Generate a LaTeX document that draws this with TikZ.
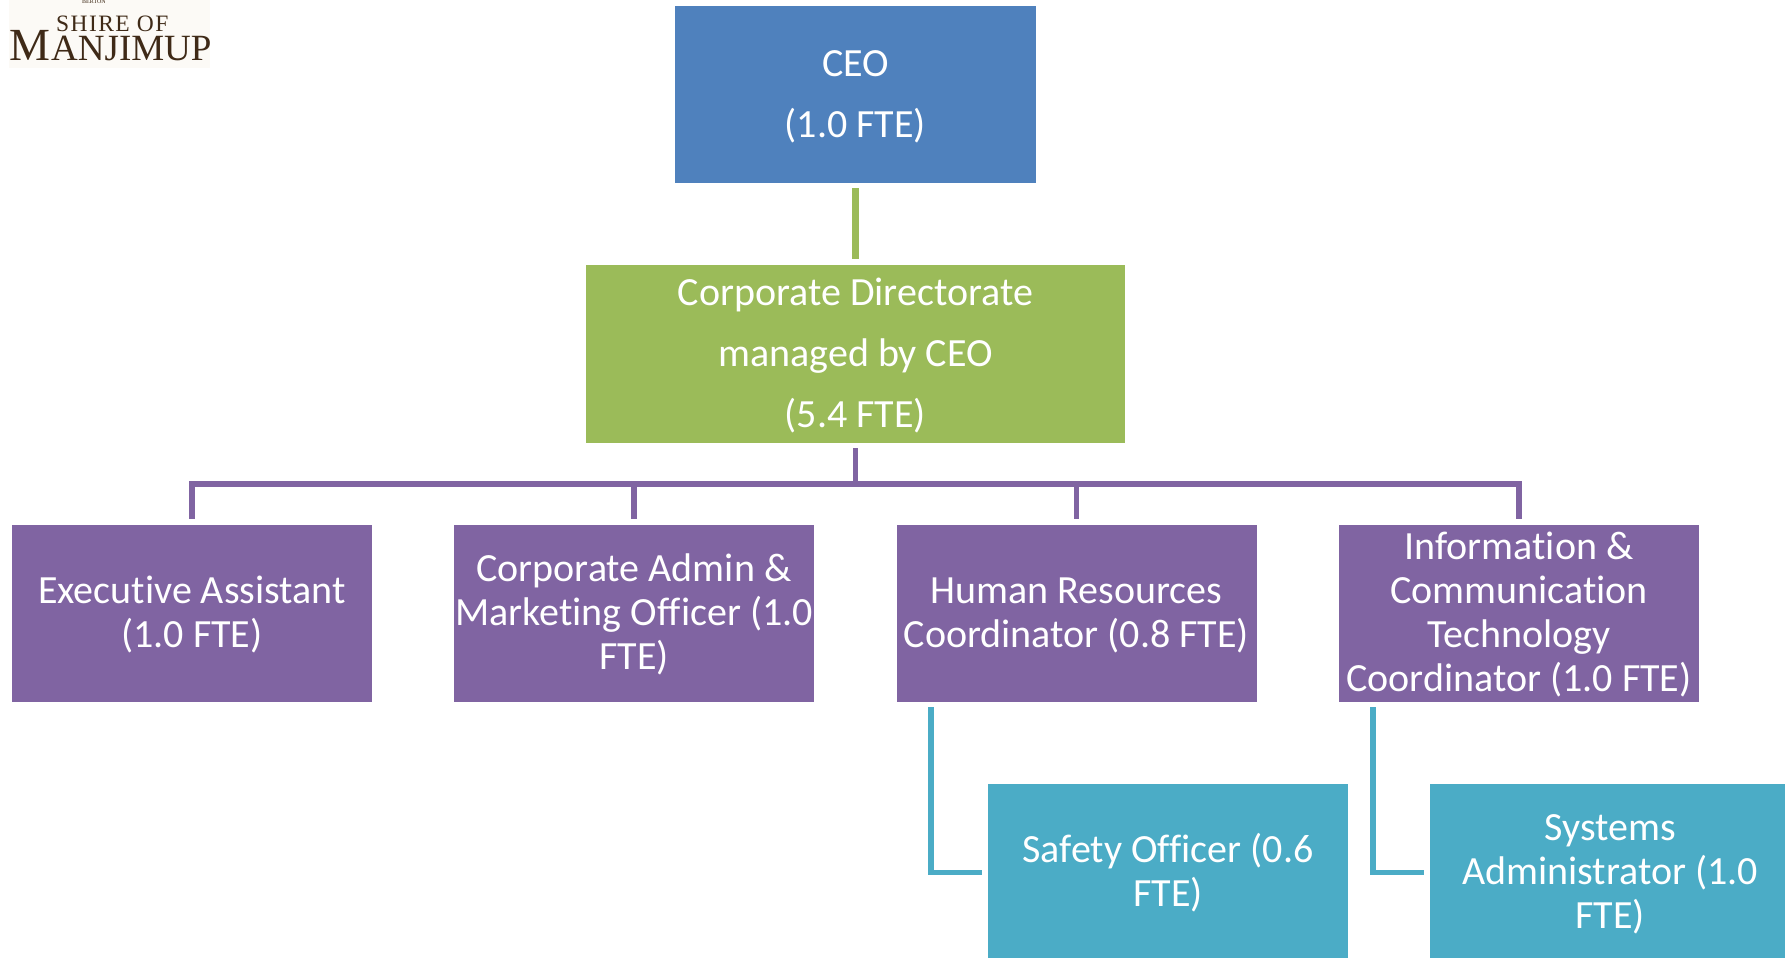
\documentclass[tikz,border=0pt]{standalone}
\usepackage{fontspec}
\setmainfont[Ligatures=NoCommon]{Carlito}
\newfontfamily\logofont{Liberation Serif}
\newfontfamily\logospaced[LetterSpace=6]{Liberation Serif}
\definecolor{cblue}{HTML}{4F81BD}
\definecolor{cgreen}{HTML}{9BBB59}
\definecolor{cpurple}{HTML}{8064A2}
\definecolor{cteal}{HTML}{4BACC6}
\definecolor{logobrown}{HTML}{3F2A17}
\definecolor{logobg}{HTML}{FCFAF6}
\newcommand{\lst}{\rule[-10pt]{0pt}{44pt}}
\tikzset{
  x=1pt,y=-1pt,
  orgbox/.style={rectangle,inner sep=0pt,text=white,align=center,minimum width=360pt,minimum height=177pt,font=\fontsize{40}{44}\selectfont},
  widebox/.style={orgbox,font=\fontsize{40}{61}\selectfont},
  link/.style={line width=5.5pt,shorten <=5pt,shorten >=6pt},
  logotext/.style={inner sep=0pt,text=logobrown,anchor=base west},
}
\begin{document}
\begin{tikzpicture}
\useasboundingbox (0,0) rectangle (1785,958);
\begin{scope}
\clip (0,0) rectangle (1785,958);
% logo
\node[rectangle,fill=logobg,minimum width=201pt,minimum height=68pt,inner sep=0pt] (logobox) at (109,34) {};
\node[logotext,font=\logofont\fontsize{6}{6}\selectfont] (logotop) at (82,3.5) {BERTON};
\node[logotext,font=\logospaced\fontsize{23.5}{23.5}\selectfont] (logoa) at (56,32) {SHIRE OF};
\node[logotext,font=\logofont\fontsize{46}{46}\selectfont] (logob) at (9,60) {M};
\node[logotext,font=\logofont\fontsize{37}{37}\selectfont] (logoc) at (51,60) {ANJIMUP};
% boxes
\node[widebox,fill=cblue,minimum width=361pt] (ceo) at (855.5,94.5) {\lst CEO\\\lst (1.0 FTE)};
\node[widebox,fill=cgreen,minimum width=539pt,minimum height=178pt] (cd) at (855.5,354) {\lst Corporate Directorate\\managed by CEO\\\lst (5.4 FTE)};
\node[orgbox,fill=cpurple] (ea) at (192,613.5) {\lst Executive Assistant\\\lst (1.0 FTE)};
\node[orgbox,fill=cpurple] (cam) at (634,613.5) {\lst Corporate Admin \&\\Marketing Officer (1.0\\\lst FTE)};
\node[orgbox,fill=cpurple] (hr) at (1076.5,613.5) {\lst Human Resources\\\lst Coordinator (0.8 FTE)};
\node[orgbox,fill=cpurple] (ict) at (1519,613.5) {\lst Information \&\\Communication\\Technology\\\lst Coordinator (1.0 FTE)};
\node[orgbox,fill=cteal] (so) at (1168,872.5) {\lst Safety Officer (0.6\\\lst FTE)};
\node[orgbox,fill=cteal] (sa) at (1610,872.5) {\lst Systems\\Administrator (1.0\\\lst FTE)};
\coordinate (hrtap) at (931,702);
\coordinate (icttap) at (1373,702);
% connectors
\draw[link,cgreen,line width=6.5pt] (ceo.south) -- (cd.north);
\draw[link,cpurple] (cd.south) -- ++(0,41) -| (ea.north);
\draw[link,cpurple] (cd.south) -- ++(0,41) -| (cam.north);
\draw[link,cpurple] (cd.south) -- ++(0,41) -| (hr.north);
\draw[link,cpurple] (cd.south) -- ++(0,41) -| (ict.north);
\draw[link,cteal] (hrtap) |- (so.west);
\draw[link,cteal] (icttap) |- (sa.west);
\end{scope}
\end{tikzpicture}
\end{document}
